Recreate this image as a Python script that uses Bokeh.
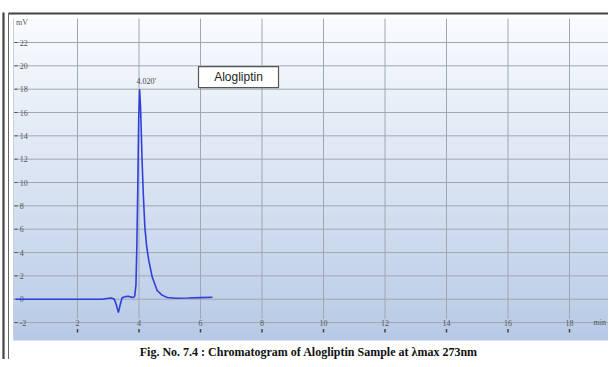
import numpy as np
from bokeh.plotting import figure
from bokeh.models import Range1d
from bokeh.core.properties import value
from bokeh.embed import file_html
from bokeh.resources import INLINE

# ---- data ----
time_min = [0.0, 1.0, 2.0, 2.8, 2.95, 3.1, 3.2, 3.27, 3.33, 3.39, 3.45, 3.55, 3.65,
            3.75, 3.82, 3.86, 3.90, 3.93, 3.96, 3.99, 4.02, 4.05, 4.07, 4.10, 4.14,
            4.19, 4.25, 4.32, 4.43, 4.59, 4.75, 4.92, 5.2, 5.6, 6.0, 6.39]
signal_mv = [0.0, 0.0, 0.0, 0.0, 0.06, 0.1, 0.0, -0.55, -1.15, -0.45, 0.12, 0.22, 0.25,
             0.18, 0.15, 0.25, 1.2, 4.5, 9.5, 15.5, 18.0, 16.5, 14.7, 11.9, 9.0,
             6.2, 4.5, 3.3, 1.9, 0.75, 0.35, 0.15, 0.08, 0.1, 0.14, 0.17]
x_ticks = [2, 4, 6, 8, 10, 12, 14, 16, 18]
y_ticks = [-2, 0, 2, 4, 6, 8, 10, 12, 14, 16, 18, 20, 22]
peak_label = "4.020'"
peak_time = 4.02
peak_height = 18.0
compound = "Alogliptin"
caption = "Fig. No. 7.4 : Chromatogram of Alogliptin Sample at \u03bbmax 273nm"

W, H = 608, 359
x0, x1 = -0.504, 19.268
y0, y1 = -5.167, 25.6

p = figure(width=W, height=H, output_backend="svg", toolbar_location=None,
           x_range=Range1d(x0, x1), y_range=Range1d(y0, y1),
           min_border=0, min_border_left=0, min_border_right=0,
           min_border_top=0, min_border_bottom=0)
p.axis.visible = False
p.grid.visible = False
p.outline_line_color = None
p.background_fill_color = "white"
p.border_fill_color = "white"

# plot area with vertical gradient
gx0, gx1 = -0.081, 19.4
gy0, gy1 = -3.54, 24.05
n = 200
t = np.linspace(0, 1, n)[:, None]  # 0 bottom -> 1 top
top = np.array([250, 252, 255])
bot = np.array([182, 201, 229])
cols = bot + (top - bot) * (t ** 0.9)
img = np.zeros((n, 1), dtype=np.uint32)
view = img.view(dtype=np.uint8).reshape((n, 1, 4))
view[:, 0, 0] = cols[:, 0]
view[:, 0, 1] = cols[:, 1]
view[:, 0, 2] = cols[:, 2]
view[:, 0, 3] = 255
p.image_rgba(image=[img], x=gx0, y=gy0, dw=gx1 - gx0, dh=gy1 - gy0)

# grid lines
p.multi_line(xs=[[gx0, gx1] for _ in y_ticks], ys=[[v, v] for v in y_ticks],
             line_color="#a0a7b2", line_width=1)
p.multi_line(xs=[[v, v] for v in x_ticks], ys=[[-1.7, gy1] for _ in x_ticks],
             line_color="#a0a7b2", line_width=1)
p.line([gx0, gx0], [gy0, gy1], line_color="#c8d0dc", line_width=1)

# tick marks and labels
p.segment(x0=[-0.05] * len(y_ticks), x1=[0.05] * len(y_ticks), y0=y_ticks, y1=y_ticks,
          line_color="#555555", line_width=1)
p.text(x=[0.12] * len(y_ticks), y=y_ticks, text=[str(v) for v in y_ticks],
       text_font=value("Liberation Serif"), text_font_size="8px", text_color="#555555",
       text_align="left", text_baseline="middle")
p.segment(x0=x_ticks, x1=x_ticks, y0=[-2.55] * len(x_ticks), y1=[-2.85] * len(x_ticks),
          line_color="#444444", line_width=1.5)
p.text(x=x_ticks, y=[-2.05] * len(x_ticks), text=[str(v) for v in x_ticks],
       text_font=value("Liberation Serif"), text_font_size="8px", text_color="#555555",
       text_align="center", text_baseline="middle")
p.text(x=[0.0], y=[23.75], text=["mV"], text_font=value("Liberation Serif"),
       text_font_size="8px", text_color="#555555", text_align="left", text_baseline="middle")
p.text(x=[18.78], y=[-2.0], text=["min"], text_font=value("Liberation Serif"),
       text_font_size="8px", text_color="#555555", text_align="left", text_baseline="middle")

# chromatogram trace
p.line(time_min, signal_mv, line_color="#2f3fdc", line_width=1.6)
p.text(x=[peak_time - 0.1], y=[peak_height + 0.7], text=[peak_label],
       text_font=value("Liberation Serif"), text_font_size="8px", text_color="#444444",
       text_align="left", text_baseline="middle")

# compound box
p.quad(left=5.935, right=8.537, bottom=18.14, top=19.94, fill_color="white",
       line_color="#555555", line_width=1.2)
p.text(x=[7.236], y=[19.04], text=[compound], text_font=value("Liberation Sans"),
       text_font_size="12px", text_color="#222222", text_align="center",
       text_baseline="middle")

# outer frame lines
p.line([-0.4065, -0.4065], [y0, 24.57], line_color="#444444", line_width=2.2)
p.line([-0.244, -0.244], [y0, 24.48], line_color="#666666", line_width=1)
p.line([-0.244, x1], [24.48, 24.48], line_color="#444444", line_width=2)

# caption
p.text(x=[9.52], y=[-4.55], text=[caption], text_font=value("Liberation Serif"),
       text_font_size="12px", text_font_style="bold", text_color="#111111",
       text_align="center", text_baseline="alphabetic")

open("out.html", "w").write(file_html(p, INLINE))
